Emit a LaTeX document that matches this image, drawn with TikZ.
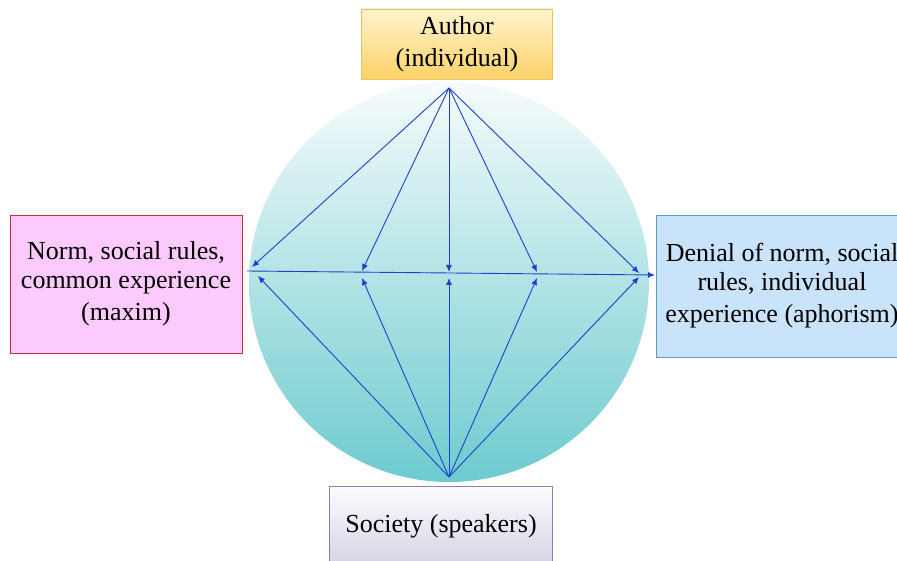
\documentclass[tikz,border=0pt]{standalone}
\usepackage{fontspec}
\setmainfont{Liberation Serif}
\definecolor{rayBlue}{HTML}{1F3FCC}
\definecolor{discTop}{HTML}{F6FBFC}
\definecolor{discBottom}{HTML}{6DCBCF}
\definecolor{authorTop}{HTML}{FFF3CF}
\definecolor{authorBottom}{HTML}{FCD268}
\definecolor{authorLine}{HTML}{E4C067}
\definecolor{maximFill}{HTML}{FCCAFC}
\definecolor{maximLine}{HTML}{C4323E}
\definecolor{aphorFill}{HTML}{C9E3FB}
\definecolor{aphorLine}{HTML}{5B9AD2}
\definecolor{socTop}{HTML}{FCFCFE}
\definecolor{socBottom}{HTML}{D6D2E6}
\definecolor{socLine}{HTML}{8A7EB4}
\usetikzlibrary{arrows.meta}

\begin{document}
\begin{tikzpicture}[x=1pt, y=-1pt,
  card/.style={draw, line width=0.8pt, align=center, inner sep=0pt,
    font=\fontsize{26}{32}\selectfont},
  ray/.style={draw=rayBlue, line width=0.9pt, -{Latex[length=7pt,width=6pt]}}]
  \useasboundingbox (0,0) rectangle (897,561);
  \clip (0,0) rectangle (897,561);

  % background disc
  \shade[top color=discTop, bottom color=discBottom] (449,282) circle (200pt);

  % the four poles
  \node[card, top color=authorTop, bottom color=authorBottom, draw=authorLine,
    minimum width=191pt, minimum height=70pt] (author) at (457,44)
    {\raisebox{-3pt}{Author}\\\raisebox{-3pt}{(individual)}};
  \node[card, fill=maximFill, draw=maximLine,
    minimum width=232pt, minimum height=138pt] (maxim) at (126,284)
    {\raisebox{-3pt}{Norm, social rules,}\\common experience\\(maxim)};
  \node[card, fill=aphorFill, draw=aphorLine,
    minimum width=252pt, minimum height=142pt] (aphor) at (782,286)
    {\raisebox{-3pt}{Denial of norm, social}\\rules, individual\\experience (aphorism)};
  \node[card, top color=socTop, bottom color=socBottom, draw=socLine,
    minimum width=223pt, minimum height=80pt] (society) at (441,526)
    {\raisebox{-3pt}{Society (speakers)}};

  % apexes and the axis
  \coordinate (apexA) at (449,88);
  \coordinate (apexS) at (449,477);
  \coordinate (axisL) at (247,271);
  \coordinate (axisR) at (655,275);
  \draw[ray] (axisL) -- (axisR);

  % rays from author and from society
  \foreach \x/\y [count=\i] in {252/267, 362/271, 449/272, 537/272, 639/273} {
    \coordinate (up\i) at (\x,\y);
    \draw[ray] (apexA) -- (up\i);
  }
  \foreach \x/\y [count=\i] in {258/276, 362/278, 449/278, 537/278, 639/277} {
    \coordinate (dn\i) at (\x,\y);
    \draw[ray] (apexS) -- (dn\i);
  }
\end{tikzpicture}
\end{document}
